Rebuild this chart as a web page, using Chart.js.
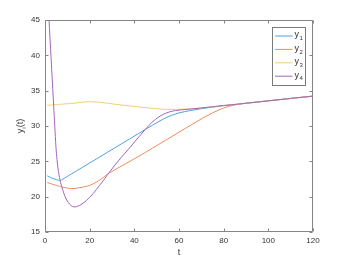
<!DOCTYPE html>
<html>
<head>
<meta charset="utf-8">
<script src="https://cdn.jsdelivr.net/npm/chart.js@4.4.1/dist/chart.umd.min.js"></script>
<style>
  html, body { margin: 0; padding: 0; background: #fff; }
  canvas { display: block; }
</style>
</head>
<body>
<canvas id="odeChart" width="346" height="260"></canvas>
<script>
// time samples
const tValues = [1, 2, 3, 4, 5, 5.5, 6, 6.5, 7, 7.5, 8, 9, 10, 11, 12, 13, 14, 17, 20, 23, 26, 28, 31, 34, 38, 42, 45, 48, 51, 54, 57, 60, 65, 70, 75, 80, 85, 90, 100, 110, 120];

const y1Values = [22.95, 22.8, 22.65, 22.52, 22.42, 22.37, 22.33, 22.3, 22.3, 22.4, 22.49, 22.68, 22.87, 23.06, 23.25, 23.44, 23.63, 24.2, 24.77, 25.34, 25.91, 26.29, 26.86, 27.43, 28.19, 28.95, 29.52, 30.09, 30.64, 31.15, 31.55, 31.85, 32.18, 32.45, 32.68, 32.88, 33.05, 33.22, 33.56, 33.9, 34.23];
const y2Values = [22.0, 21.9, 21.8, 21.7, 21.6, 21.55, 21.5, 21.46, 21.42, 21.38, 21.34, 21.27, 21.21, 21.17, 21.15, 21.16, 21.19, 21.35, 21.6, 22.05, 22.7, 23.2, 23.75, 24.3, 25.0, 25.72, 26.28, 26.85, 27.42, 27.98, 28.55, 29.12, 30.07, 31.0, 31.85, 32.55, 32.98, 33.22, 33.56, 33.9, 34.23];
const y3Values = [32.95, 32.95, 32.97, 33.0, 33.02, 33.03, 33.05, 33.06, 33.07, 33.08, 33.1, 33.12, 33.15, 33.18, 33.2, 33.23, 33.27, 33.38, 33.45, 33.4, 33.3, 33.22, 33.1, 32.98, 32.83, 32.7, 32.6, 32.5, 32.42, 32.36, 32.34, 32.37, 32.42, 32.56, 32.72, 32.9, 33.05, 33.22, 33.56, 33.9, 34.23];
const y4Values = [50.3, 43.8, 38.0, 32.2, 26.6, 24.9, 23.6, 22.7, 22.0, 21.4, 20.9, 20.0, 19.4, 18.95, 18.68, 18.55, 18.58, 19.05, 19.9, 21.0, 22.25, 23.1, 24.35, 25.5, 26.95, 28.45, 29.55, 30.55, 31.3, 31.8, 32.1, 32.25, 32.4, 32.55, 32.72, 32.9, 33.05, 33.22, 33.56, 33.9, 34.23];

const seriesNames = ['1', '2', '3', '4'];   // subscripts of y
const seriesColors = ['#4ea3db', '#ef8b60', '#f2cf72', '#a366ba'];
const seriesValues = [y1Values, y2Values, y3Values, y4Values];

const xMin = 0, xMax = 120, xStep = 20;
const yMin = 15, yMax = 45, yStep = 5;

const FONT = '"Liberation Sans", Arial, sans-serif';
const TEXT = '#333333';
const AXIS = '#858585';

const toPoints = ys => tValues.map((t, i) => ({ x: t, y: ys[i] }));

// box with inward ticks, legend and axis titles, like the matlab figure
const frame = {
    id: 'frame',
    afterDraw(chart) {
        const ctx = chart.ctx;
        const a = chart.chartArea;
        const sx = chart.scales.x, sy = chart.scales.y;
        const L = Math.round(a.left) + 0.5, R = Math.round(a.right) - 0.5;
        const T = Math.round(a.top) + 0.5, B = Math.round(a.bottom) - 0.5;
        const tl = 3;
        ctx.save();
        ctx.strokeStyle = AXIS;
        ctx.lineWidth = 1;
        ctx.beginPath();
        ctx.rect(L, T, R - L, B - T);
        sx.ticks.forEach(tk => {
            const px = Math.round(sx.getPixelForValue(tk.value)) + 0.5;
            ctx.moveTo(px, B); ctx.lineTo(px, B - tl);
            ctx.moveTo(px, T); ctx.lineTo(px, T + tl);
        });
        sy.ticks.forEach(tk => {
            const py = Math.round(sy.getPixelForValue(tk.value)) + 0.5;
            ctx.moveTo(L, py); ctx.lineTo(L + tl, py);
            ctx.moveTo(R, py); ctx.lineTo(R - tl, py);
        });
        ctx.stroke();

        // legend
        const lx = 272.5, ly = 27.5, lw = 33, lh = 58;
        ctx.fillStyle = '#fff';
        ctx.fillRect(lx, ly, lw, lh);
        ctx.strokeStyle = '#7a7a7a';
        ctx.strokeRect(lx, ly, lw, lh);
        seriesNames.forEach((sub, i) => {
            const cy = 36 + i * 13.4;
            ctx.strokeStyle = seriesColors[i];
            ctx.beginPath();
            ctx.moveTo(275, cy); ctx.lineTo(292.5, cy);
            ctx.stroke();
            ctx.fillStyle = TEXT;
            ctx.textBaseline = 'middle';
            ctx.textAlign = 'left';
            ctx.font = '9px ' + FONT;
            ctx.fillText('y', 294.5, cy - 1);
            ctx.font = '6px ' + FONT;
            ctx.fillText(sub, 299.5, cy + 2.5);
        });

        // x title
        ctx.fillStyle = TEXT;
        ctx.font = '9px ' + FONT;
        ctx.textAlign = 'center';
        ctx.textBaseline = 'middle';
        ctx.fillText('t', (a.left + a.right) / 2, 253);

        // y title: y_i(t)
        ctx.translate(21, (a.top + a.bottom) / 2);
        ctx.rotate(-Math.PI / 2);
        ctx.textAlign = 'left';
        const w1 = ctx.measureText('y').width;
        ctx.font = '6px ' + FONT;
        const w2 = ctx.measureText('i').width;
        ctx.font = '9px ' + FONT;
        const w3 = ctx.measureText('(t)').width;
        let x0 = -(w1 + w2 + w3) / 2;
        ctx.fillText('y', x0, 0);
        ctx.font = '6px ' + FONT;
        ctx.fillText('i', x0 + w1, 3);
        ctx.font = '9px ' + FONT;
        ctx.fillText('(t)', x0 + w1 + w2, 0);
        ctx.restore();
    }
};

new Chart(document.getElementById('odeChart'), {
    type: 'line',
    data: {
        datasets: seriesValues.map((ys, i) => ({
            label: 'y' + seriesNames[i],
            data: toPoints(ys),
            borderColor: seriesColors[i],
            borderWidth: 1,
            pointRadius: 0,
            fill: false,
            cubicInterpolationMode: 'monotone',
            order: 3 - i
        }))
    },
    options: {
        responsive: false,
        animation: false,
        devicePixelRatio: 1,
        layout: { padding: { left: 0, top: 20, right: 33, bottom: 0 } },
        plugins: { legend: { display: false }, tooltip: { enabled: false } },
        scales: {
            x: {
                type: 'linear', min: xMin, max: xMax,
                grid: { display: false, drawTicks: false },
                border: { display: false },
                ticks: { stepSize: xStep, padding: 4, color: TEXT, font: { family: FONT, size: 8 }, maxRotation: 0 },
                afterFit: s => { s.height = 28; }
            },
            y: {
                type: 'linear', min: yMin, max: yMax,
                grid: { display: false, drawTicks: false },
                border: { display: false },
                ticks: { stepSize: yStep, padding: 5, color: TEXT, font: { family: FONT, size: 8 } },
                afterFit: s => { s.width = 45; }
            }
        }
    },
    plugins: [frame]
});
</script>
</body>
</html>
